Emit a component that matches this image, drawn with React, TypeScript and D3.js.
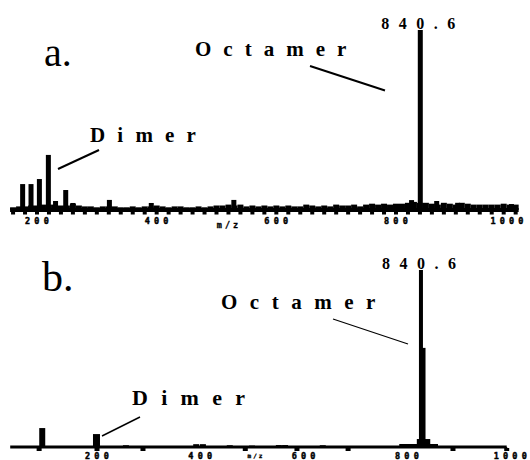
import React from 'react';
import * as d3 from 'd3';

// ---- data ----
const tickValues = [200, 400, 600, 800, 1000];

// panel a: peaks (m/z, % relative intensity)
const aPeakMz = [176, 190, 204, 219, 231, 248, 260, 321, 391, 529, 826, 840.6, 868, 903, 993];
const aPeakInt = [14.4, 14.4, 17.2, 30.6, 5, 11.1, 3.9, 5.6, 3.9, 5.6, 5.5, 100, 5, 4, 3.3];

// panel a: baseline noise, one value per 10 m/z starting at 160
const aNoiseMz = [160, 170, 180, 190, 200, 210, 220, 230, 240, 250, 260, 270, 280, 290, 300, 310, 320, 330, 340, 350,
  360, 370, 380, 390, 400, 410, 420, 430, 440, 450, 460, 470, 480, 490, 500, 510, 520, 530, 540, 550,
  560, 570, 580, 590, 600, 610, 620, 630, 640, 650, 660, 670, 680, 690, 700, 710, 720, 730, 740, 750,
  760, 770, 780, 790, 800, 810, 820, 830, 840, 850, 860, 870, 880, 890, 900, 910, 920, 930, 940, 950,
  960, 970, 980, 990, 1000];
const aNoiseInt = [1.5, 2, 2, 2.5, 2.5, 3, 3, 3, 2.5, 2.5, 3.5, 2.5, 2, 2, 1.5, 2, 2, 2, 1.5, 1.5,
  2, 1.5, 2, 2, 2.5, 2, 1.5, 2, 2, 1.5, 1.5, 2, 1.5, 2, 2.5, 2.5, 3, 2.5, 3, 2,
  2.5, 2, 2.5, 2, 2.5, 2, 2.5, 2, 2, 3, 2.5, 2, 2.5, 2, 3, 2.5, 2.5, 3, 2, 3,
  3.5, 3, 3.5, 3, 3.5, 3.5, 4, 4.5, 4, 4, 3.5, 3, 4, 3.5, 3, 4, 3.5, 3, 3, 3,
  3, 3, 3.5, 3, 3];
const aAxisRange = [155, 1005];

// panel b: peaks
const bPeakMz = [94, 199, 827, 831];
const bPeakInt = [10.7, 7.3, 100, 56];
// panel b: broad base under the octamer peak (from, to, intensity)
const bHumpFrom = [785, 819];
const bHumpTo = [860, 845];
const bHumpInt = [1.7, 4.5];
// panel b: small baseline bumps
const bNoiseMz = [256, 392, 405, 457, 500, 552, 564, 637];
const bNoiseInt = [1, 1.6, 1.6, 1, 0.8, 1.1, 1.1, 1];
// panel b: small downward ticks
const bTickMz = [88, 200, 289, 487, 587, 686, 889, 993];
const bAxisRange = [32, 993];

const serif = '"Liberation Serif", "Times New Roman", serif';
const mono = '"DejaVu Sans Mono", monospace';

function PeakLabel({ x, y }: { x: number; y: number }) {
  return (
    <text x={x} y={y} fontFamily={serif} fontWeight="bold" fontSize={16} letterSpacing={9.5}>840.6</text>
  );
}

export default function App() {
  const xa = d3.scaleLinear().domain([200, 800]).range([37, 396]);
  const ya = d3.scaleLinear().domain([0, 100]).range([210, 30]);
  const xb = d3.scaleLinear().domain([200, 800]).range([97, 407]);
  const yb = d3.scaleLinear().domain([0, 100]).range([447, 270]);

  const aMinorTicks = d3.range(160, 1010, 20);
  const noiseW = xa(10) - xa(0);

  const tickStyle = {
    fontFamily: mono, fontWeight: 'bold' as const, fontSize: 8.5,
    letterSpacing: 4.2, stroke: '#000', strokeWidth: 0.45,
  };

  return (
    <svg width={530} height={460} style={{ position: 'absolute', left: 0, top: 0, background: '#fff' }}>
      {/* ===== Panel a ===== */}
      <g>
        <line x1={xa(aAxisRange[0])} x2={xa(aAxisRange[1])} y1={ya(0)} y2={ya(0)} stroke="#000" strokeWidth={4} />
        {aMinorTicks.map((t) => (
          <rect key={'at' + t} x={xa(t) - 2} y={ya(0) + 1} width={4} height={3.5} fill="#000" />
        ))}
        {aNoiseMz.map((m, i) => (
          <rect key={'an' + i} x={xa(m) - noiseW / 2} y={ya(aNoiseInt[i])} width={noiseW} height={ya(0) - ya(aNoiseInt[i])} fill="#000" />
        ))}
        {aPeakMz.map((m, i) => (
          <rect key={'ap' + i} x={xa(m) - 2.5} y={ya(aPeakInt[i])} width={5} height={ya(0) - ya(aPeakInt[i])} fill="#000" />
        ))}
        {tickValues.map((t, i) => {
          const last = i === tickValues.length - 1;
          return (
            <text key={'al' + t} x={last ? xa(t) + 12 : xa(t) + 2} y={224} {...tickStyle}
              textAnchor={last ? 'end' : 'middle'}>{t}</text>
          );
        })}
        <text x={229} y={228} fontFamily={mono} fontWeight="bold" fontSize={8.5} letterSpacing={3}
          stroke="#000" strokeWidth={0.3} textAnchor="middle">m/z</text>

        <PeakLabel x={xa(840.6) - 39} y={28.5} />
        <text x={44} y={66} fontFamily={serif} fontSize={40}>a.</text>
        <text x={195} y={56} fontFamily={serif} fontWeight="bold" fontSize={21} letterSpacing={12}>Octamer</text>
        <line x1={310} y1={66} x2={385} y2={90.5} stroke="#000" strokeWidth={2} />
        <text x={90} y={142} fontFamily={serif} fontWeight="bold" fontSize={21} letterSpacing={12.2}>Dimer</text>
        <line x1={58} y1={169} x2={99} y2={150} stroke="#000" strokeWidth={2} />
      </g>

      {/* ===== Panel b ===== */}
      <g>
        <line x1={xb(bAxisRange[0])} x2={xb(bAxisRange[1])} y1={yb(0)} y2={yb(0)} stroke="#000" strokeWidth={3} />
        <rect x={xb(bAxisRange[1]) - 1.5} y={yb(0)} width={2} height={4} fill="#000" />
        {bTickMz.map((t) => (
          <rect key={'bt' + t} x={xb(t) - 2.5} y={yb(0) + 1} width={5} height={3} fill="#000" />
        ))}
        {bNoiseMz.map((m, i) => (
          <rect key={'bn' + i} x={xb(m) - 3} y={yb(bNoiseInt[i])} width={6} height={yb(0) - yb(bNoiseInt[i])} fill="#000" />
        ))}
        {bHumpFrom.map((f, i) => (
          <rect key={'bh' + i} x={xb(f)} y={yb(bHumpInt[i])} width={xb(bHumpTo[i]) - xb(f)} height={yb(0) - yb(bHumpInt[i])} fill="#000" />
        ))}
        {bPeakMz.map((m, i) => {
          const w = i === 0 ? 6 : i === 1 ? 7 : i === 2 ? 4 : 5;
          return (
            <rect key={'bp' + i} x={xb(m) - w / 2} y={yb(bPeakInt[i])} width={w} height={yb(0) - yb(bPeakInt[i])} fill="#000" />
          );
        })}
        {tickValues.map((t) => (
          <text key={'bl' + t} x={xb(t) + 2} y={459} {...tickStyle} textAnchor="middle">{t}</text>
        ))}
        <text x={256} y={458} fontFamily={mono} fontWeight="bold" fontSize={6} letterSpacing={2}
          stroke="#000" strokeWidth={0.3} textAnchor="middle">m/z</text>

        <PeakLabel x={xb(827) - 39} y={269} />
        <text x={42} y={291} fontFamily={serif} fontSize={42}>b.</text>
        <text x={221} y={309} fontFamily={serif} fontWeight="bold" fontSize={21} letterSpacing={12.5}>Octamer</text>
        <line x1={333} y1={319} x2={408} y2={344} stroke="#000" strokeWidth={1.2} />
        <text x={132} y={405} fontFamily={serif} fontWeight="bold" fontSize={22} letterSpacing={13.3}>Dimer</text>
        <line x1={102} y1={436} x2={140} y2={417} stroke="#000" strokeWidth={1.5} />
      </g>
    </svg>
  );
}
